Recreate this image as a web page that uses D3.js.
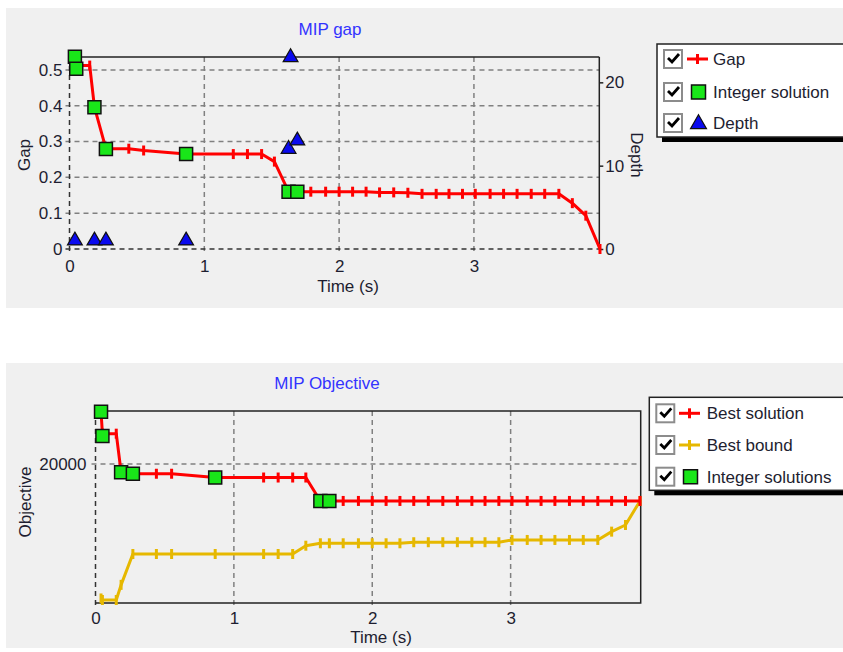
<!DOCTYPE html>
<html>
<head>
<meta charset="utf-8">
<script src="https://cdn.jsdelivr.net/npm/d3@7"></script>
<style>
body { margin: 0; background: #fff; }
svg { display: block; font-family: "Liberation Sans", Arial, sans-serif; }
</style>
</head>
<body>
<script>

// solver progress, sampled at the same times for every series
var timeS = [0.04, 0.05, 0.15, 0.185, 0.27, 0.44, 0.55, 0.865, 1.215, 1.32, 1.425, 1.52, 1.625,
             1.69, 1.79, 1.9, 2.0, 2.1, 2.2, 2.3, 2.405, 2.51, 2.615, 2.72, 2.815, 2.915,
             3.01, 3.12, 3.22, 3.32, 3.425, 3.525, 3.63, 3.73, 3.83, 3.935];
var gapVals = [0.537, 0.512, 0.512, 0.396, 0.28, 0.28, 0.275, 0.265, 0.265, 0.265, 0.265, 0.244, 0.16,
               0.16, 0.16, 0.16, 0.16, 0.16, 0.16, 0.158, 0.158, 0.157, 0.154, 0.154, 0.154, 0.154,
               0.154, 0.154, 0.154, 0.154, 0.154, 0.154, 0.154, 0.128, 0.093, 0];
var bestSol = [23450, 22000, 22000, 19450, 19350, 19350, 19350, 19100, 19100, 19100, 19100, 19100, 17550,
               17550, 17550, 17550, 17550, 17550, 17550, 17550, 17550, 17550, 17550, 17550, 17550, 17550,
               17550, 17550, 17550, 17550, 17550, 17550, 17550, 17550, 17550, 17550];
var bestBound = [11100, 11000, 11000, 12000, 14040, 14040, 14040, 14040, 14040, 14040, 14040, 14590, 14750,
                 14750, 14750, 14750, 14750, 14750, 14750, 14820, 14820, 14820, 14820, 14820, 14820, 14820,
                 14970, 14970, 14970, 14970, 14970, 14970, 14970, 15520, 15960, 17550];

// integer solutions found
var intTime = [0.04, 0.05, 0.185, 0.27, 0.865, 1.625, 1.69];
var intGap = [0.537, 0.503, 0.396, 0.279, 0.265, 0.16, 0.16];
var intObj = [23450, 21850, 19450, 19350, 19100, 17550, 17550];

// node depth
var depthTime = [0.04, 0.185, 0.27, 0.865, 1.625, 1.64, 1.69];
var depthVals = [1, 1, 1, 1, 12, 23, 13];

// tick labels
var timeTicks = [0, 1, 2, 3];
var gapTicks = [0, 0.1, 0.2, 0.3, 0.4, 0.5];
var depthTicks = [0, 10, 20];
var objTicks = [20000];

var width = 843;
var height = 652;
var fontSize = 17;
var textCol = "#1e1e30";
var gridCol = "#808080";
var green = "#19e619";

var svg = d3.select("body")
    .append("svg")
        .attr("width", width)
        .attr("height", height);

// gray panels
svg.append("rect").attr("x", 6).attr("y", 8).attr("width", 837).attr("height", 300).attr("fill", "#f0f0f0");
svg.append("rect").attr("x", 6).attr("y", 363).attr("width", 837).attr("height", 285).attr("fill", "#f0f0f0");

function pairs(xs, ys) {
  return xs.map(function (d, i) { return [d, ys[i]]; });
}

function styleAxis(g) {
  g.select(".domain").remove();
  g.selectAll("text")
      .attr("font-size", fontSize)
      .attr("font-family", "Liberation Sans, Arial, sans-serif")
      .attr("fill", textCol);
}

function vGrid(g, x, vals, y0, y1, col) {
  g.selectAll(null).data(vals).enter().append("line")
      .attr("x1", function (d) { return x(d); })
      .attr("x2", function (d) { return x(d); })
      .attr("y1", y0).attr("y2", y1)
      .attr("stroke", col).attr("stroke-width", 1.5)
      .attr("stroke-dasharray", "5,4");
}

function hGrid(g, y, vals, x0, x1, col) {
  g.selectAll(null).data(vals).enter().append("line")
      .attr("y1", function (d) { return y(d); })
      .attr("y2", function (d) { return y(d); })
      .attr("x1", x0).attr("x2", x1)
      .attr("stroke", col).attr("stroke-width", 1.5)
      .attr("stroke-dasharray", "5,4");
}

function series(g, x, y, data, col) {
  var line = d3.line()
      .x(function (d) { return x(d[0]); })
      .y(function (d) { return y(d[1]); });
  g.append("path")
      .datum(data)
      .attr("fill", "none")
      .attr("stroke", col)
      .attr("stroke-width", 3)
      .attr("stroke-linejoin", "round")
      .attr("d", line);
  g.selectAll(null).data(data).enter().append("path")
      .attr("stroke", col)
      .attr("stroke-width", 3)
      .attr("d", function (d) { return "M" + x(d[0]) + "," + (y(d[1]) - 5) + "V" + (y(d[1]) + 5); });
}

function squares(g, x, y, data) {
  g.selectAll(null).data(data).enter().append("path")
      .attr("d", d3.symbol(d3.symbolSquare, 169))
      .attr("transform", function (d) { return "translate(" + x(d[0]) + "," + y(d[1]) + ")"; })
      .attr("fill", green)
      .attr("stroke", "#111")
      .attr("stroke-width", 1.5);
}

function label(txt, x, y, rot, col) {
  svg.append("text")
      .attr("transform", "translate(" + x + "," + y + ") rotate(" + rot + ")")
      .attr("text-anchor", "middle")
      .attr("font-size", fontSize)
      .attr("fill", col || textCol)
      .text(txt);
}

// ---------- top chart: MIP gap ----------
var xTop = d3.scaleLinear().domain([0, 3.93]).range([69.5, 599.3]);
var yGap = d3.scaleLinear().domain([0, 0.536]).range([249, 57]);
var yDepth = d3.scaleLinear().domain([0, 23.04]).range([249, 57]);

var topG = svg.append("g");
hGrid(topG, yGap, gapTicks.slice(1), 65.5, 599.3, gridCol);
vGrid(topG, xTop, timeTicks.slice(1), 57, 253, gridCol);
hGrid(topG, yGap, [0], 65.5, 599.3, "#333");
vGrid(topG, xTop, [0], 57, 253, "#333");
topG.append("line").attr("x1", 69.5).attr("x2", 599.3).attr("y1", 57).attr("y2", 57)
    .attr("stroke", "#222").attr("stroke-width", 1.5);
topG.append("line").attr("x1", 599.3).attr("x2", 599.3).attr("y1", 57).attr("y2", 249)
    .attr("stroke", "#222").attr("stroke-width", 1.5);

topG.append("g").attr("transform", "translate(69.5,0)")
    .call(d3.axisLeft(yGap).tickValues(gapTicks).tickSize(0).tickPadding(7).tickFormat(function (d) { return String(d); }))
    .call(styleAxis);
topG.append("g").attr("transform", "translate(0,249)")
    .call(d3.axisBottom(xTop).tickValues(timeTicks).tickSize(0).tickPadding(11).tickFormat(function (d) { return String(d); }))
    .call(styleAxis);
topG.append("g").attr("transform", "translate(599.3,0)")
    .call(d3.axisRight(yDepth).tickValues(depthTicks).tickSize(4).tickPadding(2).tickFormat(function (d) { return String(d); }))
    .call(styleAxis)
    .selectAll("line").attr("stroke", "#222").attr("stroke-width", 1.5);

series(topG, xTop, yGap, pairs(timeS, gapVals), "#ff0000");
squares(topG, xTop, yGap, pairs(intTime, intGap));
topG.selectAll(null).data(pairs(depthTime, depthVals)).enter().append("path")
    .attr("d", d3.symbol(d3.symbolTriangle, 95))
    .attr("transform", function (d) { return "translate(" + xTop(d[0]) + "," + yDepth(d[1]) + ")"; })
    .attr("fill", "#0a0aee")
    .attr("stroke", "#111")
    .attr("stroke-width", 1.2);

label("MIP gap", 330, 35, 0, "#3333ff");
label("Gap", 30, 155, -90);
label("Time (s)", 348, 292, 0);
label("Depth", 631, 155, 90);

// ---------- bottom chart: MIP Objective ----------
var xBot = d3.scaleLinear().domain([0, 3.94]).range([95.5, 640.7]);
var yObj = d3.scaleLinear().domain([10800, 23500]).range([603, 411]);

var botG = svg.append("g");
hGrid(botG, yObj, objTicks, 91.5, 640.7, gridCol);
vGrid(botG, xBot, timeTicks.slice(1), 411, 607, gridCol);
vGrid(botG, xBot, [0], 411, 607, "#333");
botG.append("path")
    .attr("d", "M95.5,411H640.7V603H95.5")
    .attr("fill", "none").attr("stroke", "#222").attr("stroke-width", 1.5);

botG.append("g").attr("transform", "translate(95.5,0)")
    .call(d3.axisLeft(yObj).tickValues(objTicks).tickSize(0).tickPadding(9).tickFormat(function (d) { return String(d); }))
    .call(styleAxis);
botG.append("g").attr("transform", "translate(0,603)")
    .call(d3.axisBottom(xBot).tickValues(timeTicks).tickSize(0).tickPadding(9).tickFormat(function (d) { return String(d); }))
    .call(styleAxis);

series(botG, xBot, yObj, pairs(timeS, bestBound), "#e6b800");
series(botG, xBot, yObj, pairs(timeS, bestSol), "#ff0000");
squares(botG, xBot, yObj, pairs(intTime, intObj));

label("MIP Objective", 327, 389, 0, "#3333ff");
label("Objective", 31, 502, -90);
label("Time (s)", 381, 643, 0);

// ---------- legends ----------
var legTop = [
  {name: "Gap", kind: "line", col: "#ff0000"},
  {name: "Integer solution", kind: "square"},
  {name: "Depth", kind: "triangle"}
];
var legBot = [
  {name: "Best solution", kind: "line", col: "#ff0000"},
  {name: "Best bound", kind: "line", col: "#e6b800"},
  {name: "Integer solutions", kind: "square"}
];

function legend(x, y, items, rowY, symX, textX) {
  var g = svg.append("g");
  g.append("rect").attr("x", x + 5).attr("y", y + 5).attr("width", 200).attr("height", 93).attr("fill", "#000");
  g.append("rect").attr("x", x).attr("y", y).attr("width", 200).attr("height", 93)
      .attr("fill", "#fff").attr("stroke", "#222").attr("stroke-width", 1.5);
  items.forEach(function (d, i) {
    var cy = rowY[i];
    g.append("rect").attr("x", x + 7).attr("y", cy - 9).attr("width", 18).attr("height", 18)
        .attr("fill", "#fff").attr("stroke", "#8c8c8c").attr("stroke-width", 2);
    g.append("path")
        .attr("d", "M" + (x + 11) + "," + (cy - 1) + "l4,4l7,-8")
        .attr("fill", "none").attr("stroke", "#000").attr("stroke-width", 2.8);
    if (d.kind === "line") {
      g.append("line").attr("x1", symX).attr("x2", symX + 21).attr("y1", cy).attr("y2", cy)
          .attr("stroke", d.col).attr("stroke-width", 3);
      g.append("line").attr("x1", symX + 10.5).attr("x2", symX + 10.5).attr("y1", cy - 5).attr("y2", cy + 5)
          .attr("stroke", d.col).attr("stroke-width", 3);
    } else if (d.kind === "square") {
      g.append("path").attr("d", d3.symbol(d3.symbolSquare, 196))
          .attr("transform", "translate(" + (symX + 11.5) + "," + cy + ")")
          .attr("fill", green).attr("stroke", "#111").attr("stroke-width", 1.5);
    } else {
      g.append("path").attr("d", d3.symbol(d3.symbolTriangle, 110))
          .attr("transform", "translate(" + (symX + 11.5) + "," + (cy + 1) + ")")
          .attr("fill", "#0a0aee").attr("stroke", "#111").attr("stroke-width", 1.2);
    }
    g.append("text")
        .attr("x", textX).attr("y", cy)
        .attr("dy", "0.35em")
        .attr("font-size", fontSize)
        .attr("fill", textCol)
        .text(d.name);
  });
}

legend(657, 44, legTop, [59, 92, 123], 687, 713);
legend(649.3, 397.3, legBot, [413.3, 445, 476.7], 679, 706.7);

</script>
</body>
</html>
